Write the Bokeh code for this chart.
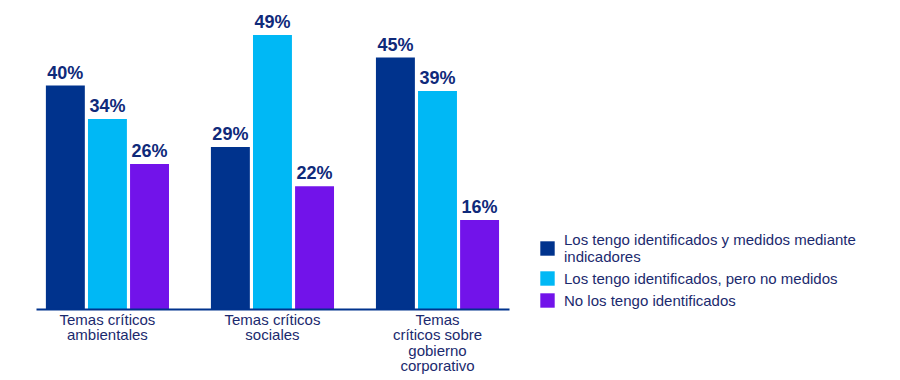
from bokeh.plotting import figure
from bokeh.models import ColumnDataSource, Legend, LegendItem, FixedTicker, Range1d
from bokeh.transform import dodge
from bokeh.embed import file_html
from bokeh.resources import INLINE
from bokeh.core.properties import value

# ---- data ----
categories = ["Temas críticos\nambientales", "Temas críticos\nsociales",
              "Temas\ncríticos sobre\ngobierno\ncorporativo"]
series_names = ["Los tengo identificados y medidos mediante\nindicadores",
                "Los tengo identificados, pero no medidos",
                "No los tengo identificados"]
medidos = [40, 29, 45]
no_medidos = [34, 49, 39]
no_identificados = [26, 22, 16]
colors = ["#00338D", "#00B8F5", "#7213EA"]

FONT = "Liberation Sans"
TXT = "#1b2a6e"

xs = [0, 1, 2]
src = ColumnDataSource(dict(
    x=xs,
    a=medidos, b=no_medidos, c=no_identificados,
    la=[f"{v}%" for v in medidos],
    lb=[f"{v}%" for v in no_medidos],
    lc=[f"{v}%" for v in no_identificados],
))

p = figure(width=890, height=378,
           x_range=Range1d(-0.648, 4.745), y_range=Range1d(0, 55.18),
           output_backend="svg", toolbar_location=None,
           y_axis_location=None,
           min_border_left=0, min_border_right=0, min_border_top=0,
           min_border_bottom=69)
p.outline_line_color = None
p.grid.visible = False
p.background_fill_color = "white"

offsets = [-0.255, 0.0, 0.255]
cols = ["a", "b", "c"]
lcols = ["la", "lb", "lc"]
items = []
for off, col, lcol, color, name in zip(offsets, cols, lcols, colors, series_names):
    r = p.vbar(x=dodge("x", off, range=p.x_range), top=col, width=0.236,
               source=src, fill_color=color, line_color=None)
    p.text(x=dodge("x", off, range=p.x_range), y=col, text=lcol, source=src,
           text_align="center", text_baseline="bottom", y_offset=-3,
           text_font=value(FONT), text_font_style="bold",
           text_font_size="18px", text_color="#0f2a7a")
    items.append(LegendItem(label=name, renderers=[r]))

ax = p.xaxis[0]
ax.ticker = FixedTicker(ticks=xs)
ax.major_label_overrides = {i: c for i, c in zip(xs, categories)}
ax.bounds = (-0.43, 2.436)
ax.axis_line_color = "#00338D"
ax.axis_line_width = 2
ax.major_tick_line_color = None
ax.minor_tick_line_color = None
ax.major_tick_out = 0
ax.major_tick_in = 0
ax.major_label_standoff = 1
ax.major_label_text_font = FONT
ax.major_label_text_font_size = "15px"
ax.major_label_text_line_height = 0.92
ax.major_label_text_color = TXT

legend = Legend(items=items, location=(538, 0),
                glyph_width=18, glyph_height=18, label_standoff=8,
                spacing=4, padding=0, margin=0,
                border_line_color=None, background_fill_alpha=0,
                label_text_font=FONT, label_text_font_size="15px",
                label_text_color=TXT, label_height=18)
p.add_layout(legend, "center")

open("out.html", "w").write(file_html(p, INLINE))
